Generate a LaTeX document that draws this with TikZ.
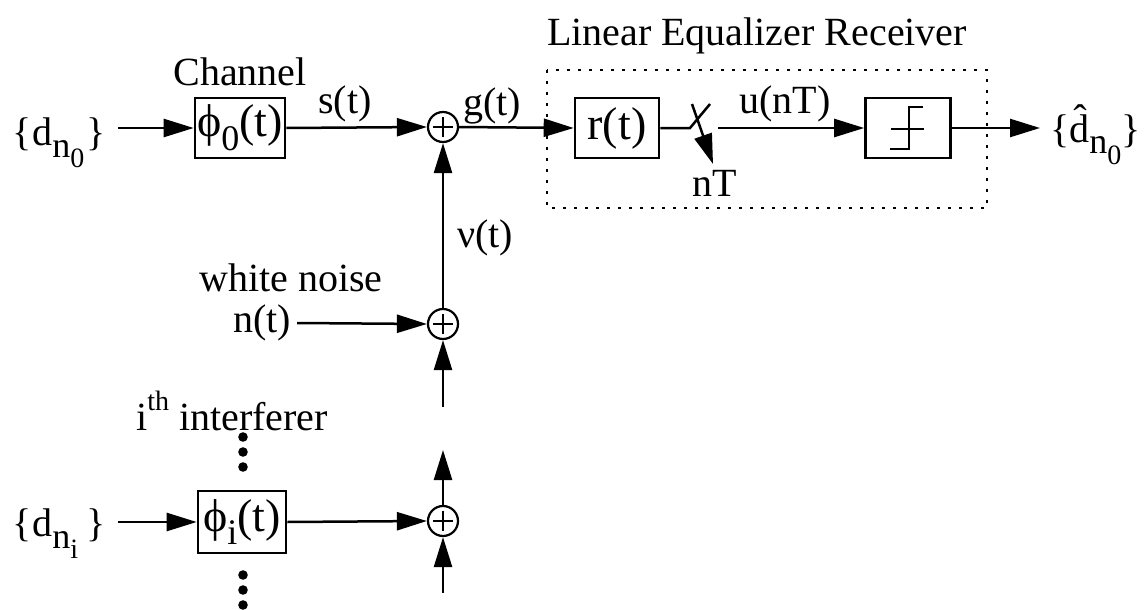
\documentclass[tikz,border=0pt]{standalone}
\usepackage{fontspec}
\setmainfont{Liberation Serif}
\usetikzlibrary{arrows.meta}
\newcommand\lo[1]{\raisebox{-0.3em}{\fontsize{36}{36}\selectfont #1}}
\newcommand\loo[1]{\raisebox{-0.28em}{\fontsize{28}{28}\selectfont #1}}
\tikzset{
  every node/.style={font=\fontsize{40}{48}\selectfont, inner sep=0pt},
  blk/.style={draw, line width=2.6pt, minimum width=#1, minimum height=60pt, font=\fontsize{46}{52}\selectfont},
  sumnode/.style={draw, circle, line width=2.2pt, minimum size=30pt},
  arr/.style={line width=2.5pt, -{Triangle[length=30pt,width=18pt]}},
  ln/.style={line width=2.5pt},
}
\begin{document}
\begin{tikzpicture}[x=1pt,y=-1pt]
\useasboundingbox (0,0) rectangle (1144,610);
% blocks
\node[blk=90pt] (phi0) at (240,128) {ϕ\lo{0}(t)};
\node[blk=84pt] (rt) at (617,128) {r(t)};
\node[blk=85pt] (dec) at (908,128) {\phantom{r}};
\node[blk=88pt, minimum height=62pt] (phii) at (242,522) {ϕ\lo{i}(t)};
% sums
\node[sumnode] (s1) at (443,127) {};
\node[sumnode] (s2) at (443,324) {};
\node[sumnode] (s3) at (443,521) {};
\foreach \s in {s1,s2,s3}{
  \draw[line width=2.8pt] (\s.center) +(-10,0) -- +(10,0);
  \draw[line width=2.8pt] (\s.center) +(0,-10) -- +(0,10);
}
% decision symbol
\draw[line width=2.6pt] ([shift={(15,-21)}]dec.center) -- ([shift={(1,-21)}]dec.center)
   -- ([shift={(1,21)}]dec.center) -- ([shift={(-18,21)}]dec.center);
\draw[line width=2.6pt] ([shift={(-17,1)}]dec.center) -- ([shift={(16,1)}]dec.center);
% texts
\node (chan) at (240,72) {Channel};
\node (ler) at (757,36) {Linear Equalizer Receiver};
\node (st) at (345,104) {s(t)};
\node (gt) at (492,106) {g(t)};
\node (unt) at (785,104) {u(nT)};
\node (nTl) at (715,183) {nT};
\node (nu) at (485,238) {ν(t)};
\node (wn) at (291,278) {white noise};
\node (nt) at (262,323) {n(t)};
\node[anchor=base] (ith) at (232,430) {i\raisebox{0.5em}{\fontsize{28}{28}\selectfont th} interferer};
\node[anchor=base west] (d0) at (12,145) {\{\kern1pt d\lo{n\loo{0}}\kern2pt\}};
\node[anchor=base west] (di) at (12,536) {\{\kern1pt d\lo{n\loo{i}}\kern8pt\}};
\node[anchor=base west] (dh) at (1050,142) {\{\^{d}\lo{n\loo{0}}\}};
% coordinates
\coordinate (sw1) at (690,128);
\coordinate (sw2) at (718,128);
\coordinate (b2) at (443,407);
\coordinate (t3) at (443,450);
\coordinate (b3) at (443,593);
% connectors
\draw[arr] (d0.east |- phi0.west) ++(12,0) -- (phi0.west);
\draw[arr] (phi0.east) -- (s1.west);
\draw[arr] (s1.east) -- (rt.west);
\draw[ln] (rt.east) -- (sw1) -- (710,104);
\draw[arr] (692,104) -- (713,164);
\draw[arr] (sw2) -- (dec.west);
\draw[arr] (dec.east) -- (1040,128);
\draw[arr] (s2.north) -- (s1.south);
\draw[arr] (b2) -- (s2.south);
\draw[arr] (nt.east) ++(6,0) -- (s2.west);
\draw[arr] (s3.north) -- (t3);
\draw[arr] (b3) -- (s3.south);
\draw[arr] (di.east |- phii.west) ++(12,0) -- (phii.west);
\draw[arr] (phii.east) -- (s3.west);
% dots
\foreach \y in {437,452,467,575,590,605} \fill (243,\y) circle (4.8);
% dotted box
\draw[line width=1.6pt, dash pattern=on 3pt off 8pt] (547,70) rectangle (987,208);
\end{tikzpicture}
\end{document}
